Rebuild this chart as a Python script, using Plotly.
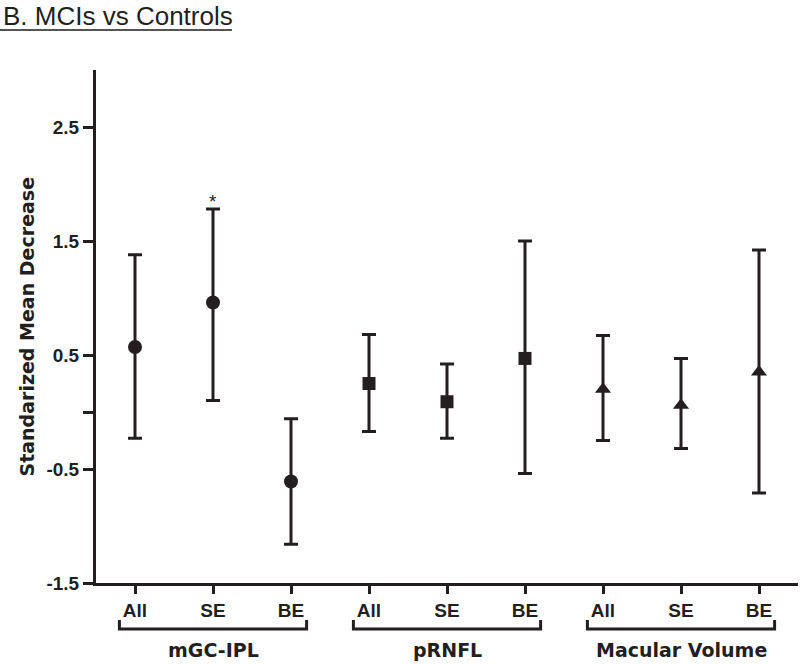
import plotly.graph_objects as go

# ---- data ----
categories = ["All", "SE", "BE", "All", "SE", "BE", "All", "SE", "BE"]
groups = ["mGC-IPL", "pRNFL", "Macular Volume"]
means = [0.57, 0.96, -0.61, 0.25, 0.09, 0.47, 0.20, 0.06, 0.35]
lower = [-0.23, 0.10, -1.16, -0.17, -0.23, -0.54, -0.25, -0.32, -0.71]
upper = [1.38, 1.78, -0.06, 0.68, 0.42, 1.50, 0.67, 0.47, 1.42]
significant = [False, True, False, False, False, False, False, False, False]
ytick_vals = [-1.5, -0.5, 0, 0.5, 1.5, 2.5]
ytick_text = ["-1.5", "-0.5", "", "0.5", "1.5", "2.5"]

INK = "#231f20"
symbols = ["circle", "square", "triangle-up"]
sizes = [14, 13, 14]

xs = list(range(1, len(categories) + 1))

PW, PH = 702, 513  # plot area size in px

fig = go.Figure()
for g in range(3):
    idx = list(range(3 * g, 3 * g + 3))
    fig.add_trace(go.Scatter(
        x=[xs[i] for i in idx],
        y=[means[i] for i in idx],
        mode="markers",
        marker=dict(symbol=symbols[g], size=sizes[g], color=INK),
        error_y=dict(type="data", symmetric=False,
                     array=[upper[i] - means[i] for i in idx],
                     arrayminus=[means[i] - lower[i] for i in idx],
                     color=INK, thickness=3, width=7),
        showlegend=False,
    ))

for i, s in enumerate(significant):
    if s:
        fig.add_annotation(x=xs[i], y=upper[i], text="*", showarrow=False,
                           yanchor="bottom", yshift=-5,
                           font=dict(family="Liberation Sans", size=19, color=INK))

# group brackets and labels
y_h = -(629 - 583) / PH
y_v = -(620 - 583) / PH
for g, name in enumerate(groups):
    x0 = xs[3 * g] - 0.2
    x1 = xs[3 * g + 2] + 0.2
    fig.add_shape(type="path", xref="x", yref="paper",
                  path=f"M {x0},{y_v} L {x0},{y_h} L {x1},{y_h} L {x1},{y_v}",
                  line=dict(color=INK, width=3))
    fig.add_annotation(x=xs[3 * g + 1], y=-(650 - 583) / PH, xref="x", yref="paper",
                       text=f"<b>{name}</b>", showarrow=False,
                       yanchor="middle",
                       font=dict(family="DejaVu Sans", size=19, color=INK))

# title and underline
fig.add_annotation(x=-95 / PW, y=1 + (70 - 16) / PH, xref="paper", yref="paper",
                   text="B. MCIs vs Controls", showarrow=False,
                   xanchor="left", yanchor="middle",
                   font=dict(family="Liberation Sans", size=26, color=INK))
fig.add_shape(type="line", xref="paper", yref="paper",
              x0=-96 / PW, x1=(232 - 96) / PW,
              y0=1 + (70 - 30) / PH, y1=1 + (70 - 30) / PH,
              line=dict(color="#555555", width=2))

# y axis title
fig.add_annotation(x=-(96 - 26) / PW, y=0.5, xref="paper", yref="paper",
                   text="<b>Standarized Mean Decrease</b>", showarrow=False,
                   textangle=-90, xanchor="center", yanchor="middle",
                   font=dict(family="DejaVu Sans", size=19, color=INK))

fig.update_layout(
    width=800, height=664,
    margin=dict(l=96, r=2, t=70, b=81),
    plot_bgcolor="white", paper_bgcolor="white",
    xaxis=dict(range=[0.5, 9.5], tickvals=xs, ticktext=categories, automargin=False,
               showgrid=False, zeroline=False, showline=True, linecolor=INK,
               linewidth=3, ticks="outside", ticklen=8, tickwidth=3, tickcolor=INK,
               tickfont=dict(family="Liberation Sans", size=19, color=INK, weight="bold")),
    yaxis=dict(range=[-1.5, 3.0], tickvals=ytick_vals, ticktext=ytick_text, automargin=False,
               showgrid=False, zeroline=False, showline=True, linecolor=INK,
               linewidth=3, ticks="outside", ticklen=10, tickwidth=3, tickcolor=INK,
               tickfont=dict(family="Liberation Sans", size=19, color=INK, weight="bold")),
)

fig.write_html("out.html", config={"displayModeBar": False},
               post_script="document.body.style.margin='0';")
